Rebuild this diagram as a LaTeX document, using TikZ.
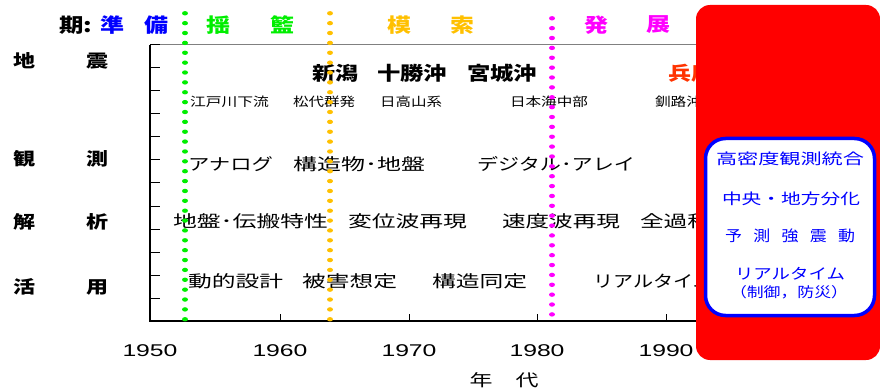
\documentclass[tikz,border=0pt]{standalone}
\usepackage{fontspec}
\usepackage{graphicx}
\newfontfamily\jp{Noto Sans CJK JP}
\newfontfamily\lat{Liberation Sans}
\newcommand\W[2]{\resizebox{#1}{\height}{#2}}
\definecolor{gold}{HTML}{FFC000}
\definecolor{grn}{HTML}{00EE00}
\definecolor{mag}{HTML}{FF00FF}
\definecolor{hyo}{HTML}{FF3300}
\definecolor{bl}{HTML}{0000FF}
\begin{document}
\begin{tikzpicture}[x=1pt,y=-1pt,
  every node/.style={inner sep=0pt,outer sep=0pt},
  per/.style={font=\jp\bfseries\fontsize{19.5}{20}\selectfont},
  lab/.style={font=\jp\bfseries\fontsize{17.5}{18}\selectfont},
  quake/.style={font=\jp\bfseries\fontsize{19}{20}\selectfont,anchor=west},
  small/.style={font=\jp\fontsize{12.5}{13}\selectfont,anchor=west},
  row/.style={font=\jp\fontsize{16.5}{17}\selectfont,anchor=west},
  yr/.style={font=\lat\fontsize{17}{18}\selectfont},
  blu/.style={font=\jp\fontsize{15}{16}\selectfont,text=bl},
  axis/.style={line width=1.5pt,black},
  tick/.style={line width=1pt,black},
  dotmark/.style={x radius=3pt,y radius=2.2pt}
]
\useasboundingbox (0,0) rectangle (880,390);
% axes
\coordinate (tl) at (150,45);
\coordinate (bl) at (150,321);
\coordinate (br) at (700,321);
\coordinate (tr) at (700,45);
\draw[gray,line width=1pt] (tl) -- (tr);
\draw[axis] (tl) -- (bl) -- (br);
\foreach \k in {0,...,12} \draw[tick] (150,{45+23*\k}) -- ++(10,0);
\foreach \x in {280,409,537,666} \draw[tick] (\x,321) -- ++(0,-7);
% period labels
\node[per] (p0) at (75.5,25) {\W{33pt}{期:}};
\node[per,text=bl] (p1) at (112,25) {\W{24pt}{準}};
\node[per,text=bl] (p2) at (156,25) {\W{24pt}{備}};
\node[per,text=grn] (p3) at (218,25) {\W{24pt}{揺}};
\node[per,text=grn] (p4) at (282,25) {\W{24pt}{籃}};
\node[per,text=gold] (p5) at (399,25) {\W{24pt}{模}};
\node[per,text=gold] (p6) at (462,25) {\W{24pt}{索}};
\node[per,text=mag] (p7) at (596,25) {\W{24pt}{発}};
\node[per,text=mag] (p8) at (658,25) {\W{24pt}{展}};
% left labels
\node[lab] (l1a) at (24,61) {\W{22pt}{地}};
\node[lab] (l1b) at (97,61) {\W{22pt}{震}};
\node[lab] (l2a) at (24,159) {\W{22pt}{観}};
\node[lab] (l2b) at (97,159) {\W{22pt}{測}};
\node[lab] (l3a) at (24,222) {\W{22pt}{解}};
\node[lab] (l3b) at (97,222) {\W{22pt}{析}};
\node[lab] (l4a) at (24,287) {\W{22pt}{活}};
\node[lab] (l4b) at (97,287) {\W{22pt}{用}};
% earthquakes
\node[quake] (q1) at (312,73) {\W{46pt}{新潟}};
\node[quake] (q2) at (377,73) {\W{70pt}{十勝沖}};
\node[quake] (q3) at (467,73) {\W{70pt}{宮城沖}};
\node[quake,text=hyo] (q4) at (668,73) {\W{46pt}{兵庫}};
\node[small] (s1) at (190,102) {\W{79pt}{江戸川下流}};
\node[small] (s2) at (293,102) {\W{62pt}{松代群発}};
\node[small] (s3) at (380,102) {\W{62pt}{日高山系}};
\node[small] (s4) at (510,102) {\W{78pt}{日本海中部}};
\node[small] (s5) at (655,102) {\W{47pt}{釧路沖}};
% observation
\node[row] (o1) at (188,164) {\W{85pt}{アナログ}};
\node[row] (o2) at (293,164) {\W{132pt}{構造物･地盤}};
\node[row] (o3) at (477,164) {\W{158pt}{デジタル･アレイ}};
% analysis
\node[row] (a1) at (173,221) {\W{155pt}{地盤･伝搬特性}};
\node[row] (a2) at (348,221) {\W{119pt}{変位波再現}};
\node[row] (a3) at (502,221) {\W{118pt}{速度波再現}};
\node[row] (a4) at (640,221) {\W{71pt}{全過程}};
% application
\node[row] (u1) at (188,281) {\W{95pt}{動的設計}};
\node[row] (u2) at (302,281) {\W{95pt}{被害想定}};
\node[row] (u3) at (432,281) {\W{95pt}{構造同定}};
\node[row] (u4) at (593,281) {\W{120pt}{リアルタイム}};
% years
\node[yr] (y1) at (150,351) {\W{55pt}{1950}};
\node[yr] (y2) at (280,351) {\W{55pt}{1960}};
\node[yr] (y3) at (409,351) {\W{55pt}{1970}};
\node[yr] (y4) at (537,351) {\W{55pt}{1980}};
\node[yr] (y5) at (666,351) {\W{55pt}{1990}};
\node[row,anchor=center] (n1) at (481,380) {\W{23pt}{年}};
\node[row,anchor=center] (n2) at (527,380) {\W{23pt}{代}};
% dotted period boundaries
\foreach \i in {0,...,31} \fill[grn] (185,{13.3+9.87*\i}) ellipse [dotmark];
\foreach \i in {0,...,31} \fill[gold] (330,{13.3+9.87*\i}) ellipse [dotmark];
\foreach \i in {0,...,30} \fill[mag] (552,{18.3+9.87*\i}) ellipse [dotmark];
% red panel
\fill[red,rounded corners=14pt] (696,5) rectangle (880,360);
\draw[bl,line width=3.5pt,fill=white,rounded corners=20pt] (705.5,138.5) rectangle (874.5,315.5);
\node[blu] (b1) at (790,159) {\W{148pt}{高密度観測統合}};
\node[blu] (b2) at (791,199) {\W{138pt}{中央・地方分化}};
\node[blu] (b3) at (790,236) {\W{130pt}{予\hspace{10pt}測\hspace{10pt}強\hspace{10pt}震\hspace{10pt}動}};
\node[blu] (b4) at (790,274) {\W{110pt}{リアルタイム}};
\node[blu,font=\jp\fontsize{14}{15}\selectfont] (b5) at (789,292) {\W{118pt}{（制御，防災）}};
\end{tikzpicture}
\end{document}
